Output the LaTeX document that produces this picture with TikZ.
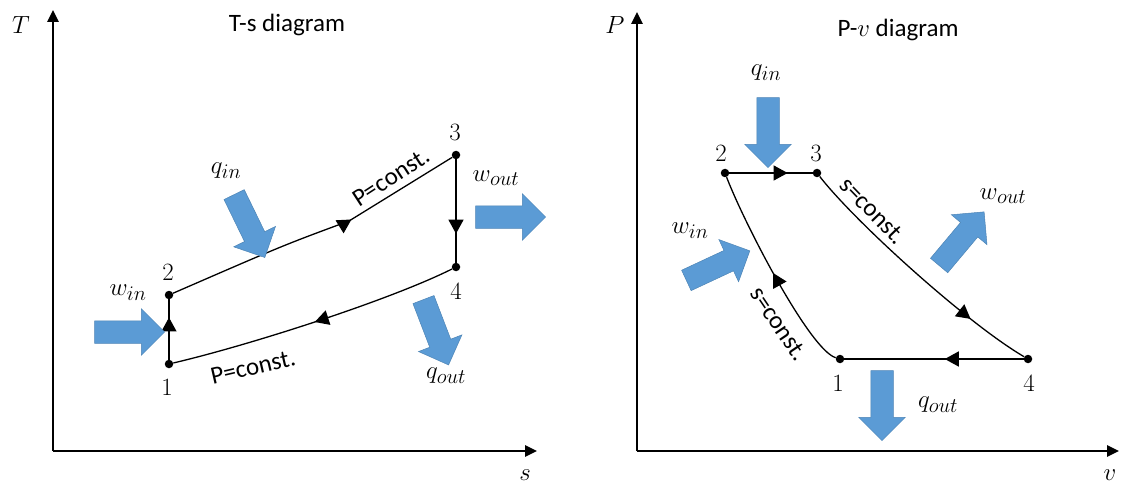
\documentclass[tikz,border=0pt]{standalone}
\usepackage{fontspec}
\newfontfamily\calfont{Carlito}
\usetikzlibrary{arrows.meta, shapes.arrows, decorations.markings}

\definecolor{heatblue}{RGB}{91,155,213}

\tikzset{
  axis/.style={line width=2.6pt, -{Triangle[length=12pt,width=11pt]}},
  pathline/.style={line width=1.3pt},
  statept/.style={circle, fill=black, inner sep=0pt, minimum size=8.5pt},
  midarrow/.style={postaction={decorate}, decoration={markings,
      mark=at position #1 with {\arrow{Triangle[length=14pt,width=15pt]}}}},
  blockarrow/.style={single arrow, fill=heatblue, draw=heatblue!85!black,
      line width=0.5pt, minimum height=70pt, minimum width=46pt,
      single arrow head extend=12pt, single arrow head indent=0pt,
      inner xsep=0pt, inner ysep=11pt},
  txt/.style={font=\calfont\fontsize{25}{28}\selectfont},
  mlabel/.style={font=\fontsize{29}{32}\selectfont},
  numlabel/.style={font=\fontsize{24}{27}\selectfont},
}

\begin{document}
\begin{tikzpicture}[x=1pt, y=-1pt]
  \useasboundingbox (0,0) rectangle (1125,484);

  % T-s diagram
  \coordinate (TSo) at (53,451);
  \coordinate (TSy) at (53,10);
  \coordinate (TSx) at (537,451);
  \draw[axis] (TSo) -- (TSy);
  \draw[axis] (TSo) -- (TSx);
  \node[numlabel] (Tlab) at (21,25) {$T$};
  \node[numlabel] (slab) at (525,475) {$s$};
  \node[txt] (TStitle) at (287,25) {T-s diagram};

  \node[statept] (t1) at (169,364) {};
  \node[statept] (t2) at (169,295) {};
  \node[statept] (t3) at (456,155) {};
  \node[statept] (t4) at (456,267) {};
  \node[numlabel] (t1lab) at (167,387) {$1$};
  \node[numlabel] (t2lab) at (168,272) {$2$};
  \node[numlabel] (t3lab) at (455,132) {$3$};
  \node[numlabel] (t4lab) at (456,291) {$4$};

  \draw[pathline, midarrow=0.7] (t1) -- (t2);
  \coordinate (kink) at (349,221);
  \draw[pathline, midarrow=0.62] (t2) .. controls (284,245) .. (kink) -- (t3);
  \draw[pathline, midarrow=0.72] (t3) -- (t4);
  \draw[pathline, midarrow=0.5] (t4) .. controls (390,300) and (250,345) .. (t1);

  \node[txt, rotate=33] (TShigh) at (391,177) {P=const.};
  \node[txt, rotate=13] (TSlow) at (253,367) {P=const.};

  \node[blockarrow] (winTS) at (124,332) {};
  \node[blockarrow, rotate=-64] (qinTS) at (247,221) {};
  \node[blockarrow] (woutTS) at (505,217) {};
  \node[blockarrow, rotate=-69] (qoutTS) at (434,327) {};
  \node[mlabel] (winTSlab) at (128,293) {$w_{in}$};
  \node[mlabel] (qinTSlab) at (226,171) {$q_{in}$};
  \node[mlabel] (woutTSlab) at (496,178) {$w_{out}$};
  \node[mlabel] (qoutTSlab) at (446,376) {$q_{out}$};

  % P-v diagram
  \coordinate (PVo) at (637,451);
  \coordinate (PVy) at (637,12);
  \coordinate (PVx) at (1119,451);
  \draw[axis] (PVo) -- (PVy);
  \draw[axis] (PVo) -- (PVx);
  \node[numlabel] (Plab) at (615,25) {$P$};
  \node[numlabel] (vlab) at (1110,475) {$v$};
  \node[txt] (PVtitle) at (898,30) {P-$v$ diagram};

  \node[statept] (p1) at (840,359) {};
  \node[statept] (p2) at (725,173) {};
  \node[statept] (p3) at (817,173) {};
  \node[statept] (p4) at (1028,359) {};
  \node[numlabel] (p1lab) at (838,383) {$1$};
  \node[numlabel] (p2lab) at (721,153) {$2$};
  \node[numlabel] (p3lab) at (816,153) {$3$};
  \node[numlabel] (p4lab) at (1029,383) {$4$};

  \draw[pathline, midarrow=0.7] (p2) -- (p3);
  \draw[pathline, midarrow=0.76] (p3) .. controls (856,223) and (968,324) .. (p4);
  \draw[pathline, midarrow=0.44] (p4) -- (p1);
  \draw[pathline, midarrow=0.5] (p1) .. controls (810,350) and (745,225) .. (p2);

  \node[txt, rotate=-46] (PVright) at (873,211) {s=const.};
  \node[txt, rotate=-56] (PVleft) at (779,324) {s=const.};

  \node[blockarrow, rotate=-90] (qinPV) at (768,127) {};
  \node[blockarrow, rotate=-90] (qoutPV) at (882,400) {};
  \node[blockarrow, rotate=25] (winPV) at (713,268) {};
  \node[blockarrow, rotate=50] (woutPV) at (958,243) {};
  \node[mlabel] (qinPVlab) at (766,73) {$q_{in}$};
  \node[mlabel] (winPVlab) at (690,231) {$w_{in}$};
  \node[mlabel] (woutPVlab) at (1003,196) {$w_{out}$};
  \node[mlabel] (qoutPVlab) at (938,405) {$q_{out}$};
\end{tikzpicture}
\end{document}
